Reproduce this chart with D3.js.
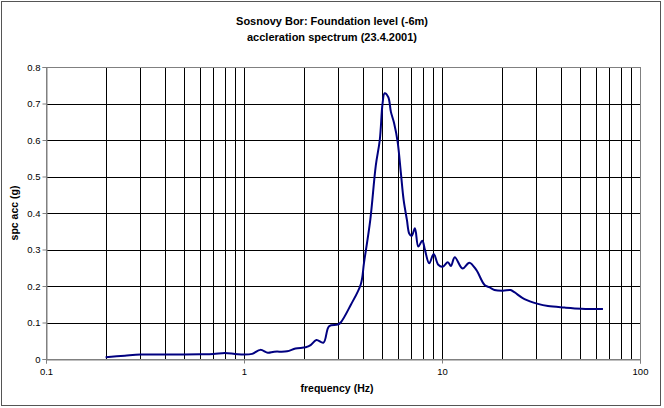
<!DOCTYPE html>
<html><head><meta charset="utf-8">
<script src="https://cdn.jsdelivr.net/npm/d3@7"></script>
<style>body{margin:0;background:#fff}svg{display:block}text{font-family:"Liberation Sans",Arial,sans-serif;fill:#000}</style>
</head><body>
<svg id="c" width="664" height="408"></svg>
<script>
const titleLines = ["Sosnovy Bor: Foundation level (-6m)", "accleration spectrum (23.4.2001)"];
const xTitle = "frequency (Hz)";
const yTitle = "spc acc (g)";
const xTickValues = [0.1, 1, 10, 100];
const xTickLabels = ["0.1", "1", "10", "100"];
const yTickValues = [0, 0.1, 0.2, 0.3, 0.4, 0.5, 0.6, 0.7, 0.8];
const yTickLabels = ["0", "0.1", "0.2", "0.3", "0.4", "0.5", "0.6", "0.7", "0.8"];
const freq = [0.2,0.25,0.3,0.4,0.5,0.6,0.7,0.8,0.9,1.0,
  1.1,1.21,1.32,1.42,1.65,1.82,2.05,2.17,2.32,2.52,
  2.69,2.97,3.08,3.46,3.89,4.04,4.34,4.63,4.85,5.01,
  5.13,5.35,5.52,5.73,5.97,6.2,6.4,6.65,6.83,7.03,
  7.3,7.59,7.95,8.2,8.62,9.08,9.58,10.08,10.7,11.1,
  11.6,12.7,13.75,14.9,16.4,17.4,18.4,20.3,22.2,23.2,
  26.1,30.5,34.3,41.6,50.6,65];
const acc = [0.005,0.009,0.012,0.0125,0.0125,0.0128,0.0135,0.0165,0.014,0.012,
  0.014,0.025,0.017,0.02,0.021,0.029,0.032,0.038,0.052,0.045,
  0.09,0.094,0.1,0.148,0.205,0.265,0.38,0.53,0.6,0.70,
  0.728,0.718,0.677,0.646,0.595,0.509,0.436,0.381,0.344,0.337,
  0.358,0.308,0.324,0.299,0.262,0.288,0.258,0.253,0.265,0.255,
  0.279,0.248,0.264,0.244,0.203,0.196,0.189,0.187,0.189,0.183,
  0.164,0.151,0.145,0.141,0.138,0.137];

const svg = d3.select("#c");
const L = 46, R = 640, T = 67, B = 359;
const x = d3.scaleLog().domain([0.1, 100]).range([L, R]);
const y = d3.scaleLinear().domain([0, 0.8]).range([B, T]);

// outer border
svg.append("rect").attr("x", 1.5).attr("y", 1.5).attr("width", 659).attr("height", 404)
  .attr("fill", "none").attr("stroke", "#555").attr("stroke-width", 1);

// vertical gridlines (minor + major)
const vgrid = [];
[0.1, 1, 10].forEach(d => { for (let k = 1; k <= 9; k++) { const v = d * k; if (v > 0.1) vgrid.push(v); } });
svg.append("g").selectAll("line").data(vgrid).join("line")
  .attr("x1", d => Math.round(x(d)) + 0.5).attr("x2", d => Math.round(x(d)) + 0.5)
  .attr("y1", T).attr("y2", B).attr("stroke", "#000").attr("stroke-width", 1);
// horizontal gridlines
svg.append("g").selectAll("line").data(yTickValues.filter(v => v > 0)).join("line")
  .attr("x1", L).attr("x2", R)
  .attr("y1", d => Math.round(y(d)) + 0.5).attr("y2", d => Math.round(y(d)) + 0.5)
  .attr("stroke", "#000").attr("stroke-width", 1);

// plot frame
svg.append("rect").attr("x", L + 0.5).attr("y", Math.round(T) + 0.5)
  .attr("width", R - L).attr("height", B - T)
  .attr("fill", "none").attr("stroke", "#808080");

// axes
const xAxis = d3.axisBottom(x).tickValues(xTickValues).tickFormat((d, i) => xTickLabels[i]).tickSize(4).tickPadding(5);
const gx = svg.append("g").attr("transform", `translate(0,${B + 0.5})`).call(xAxis);
gx.select(".domain").attr("stroke", "#808080");
gx.selectAll(".tick line").attr("stroke", "#808080");
gx.selectAll("text").style("font-size", "9.5px").attr("fill", "#000");

const yAxis = d3.axisLeft(y).tickValues(yTickValues).tickFormat((d, i) => yTickLabels[i]).tickSize(4).tickPadding(2);
const gy = svg.append("g").attr("transform", `translate(${L + 0.5},0)`).call(yAxis);
gy.select(".domain").attr("stroke", "#808080");
gy.selectAll(".tick line").attr("stroke", "#808080");
gy.selectAll("text").style("font-size", "9.5px").attr("fill", "#000");

// series
const data = freq.map((f, i) => ({ f, v: acc[i] }));
const line = d3.line().x(d => x(d.f)).y(d => y(d.v)).curve(d3.curveCatmullRom.alpha(0.5));
svg.append("path").datum(data).attr("d", line)
  .attr("fill", "none").attr("stroke", "#000080").attr("stroke-width", 2);

// titles
svg.append("text").attr("x", 332).attr("y", 25).attr("text-anchor", "middle")
  .style("font-size", "11px").style("font-weight", "bold").text(titleLines[0]);
svg.append("text").attr("x", 332).attr("y", 41).attr("text-anchor", "middle")
  .style("font-size", "11px").style("font-weight", "bold").text(titleLines[1]);
svg.append("text").attr("x", 337).attr("y", 392).attr("text-anchor", "middle")
  .style("font-size", "10.5px").style("font-weight", "bold").text(xTitle);
svg.append("text").attr("transform", `translate(18,${(T + B) / 2}) rotate(-90)`).attr("text-anchor", "middle")
  .style("font-size", "10.5px").style("font-weight", "bold").text(yTitle);
</script>
</body></html>
